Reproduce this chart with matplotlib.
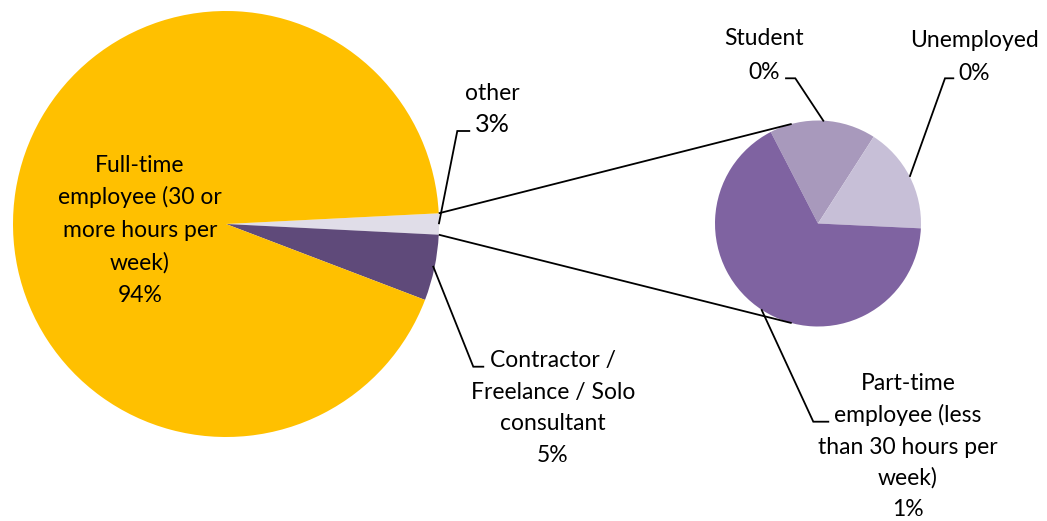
import matplotlib
matplotlib.use("Agg")
import matplotlib.pyplot as plt
import numpy as np

plt.rcParams['font.family'] = ['Lato', 'DejaVu Sans']

# ---- data ----
main_labels = ['other', 'Contractor /\nFreelance / Solo\nconsultant',
               'Full-time\nemployee (30 or\nmore hours per\nweek)']
main_values = [1.6, 5.0, 93.4]
main_pct = ['3%', '5%', '94%']
main_colors = ['#E0DDE8', '#5F4A7A', '#FFC000']

sub_labels = ['Student', 'Unemployed',
              'Part-time\nemployee (less\nthan 30 hours per\nweek)']
sub_values = [1, 1, 4]
sub_pct = ['0%', '0%', '1%']
sub_colors = ['#A899BC', '#C7BFD7', '#7F63A1']

W, H = 1047, 521
def Y(y):
    return H - y

fig = plt.figure(figsize=(W / 100, H / 100), dpi=100)
ax = fig.add_axes([0, 0, 1, 1])

# main pie
C1 = (226, Y(224)); R1 = 213
other_frac = main_values[0] / sum(main_values)
start1 = other_frac * 360 / 2
ax.pie(main_values, colors=main_colors, startangle=start1, counterclock=False,
       center=C1, radius=R1, wedgeprops=dict(linewidth=0))

# secondary pie
C2 = (818, Y(223.5)); R2 = 103
ax.pie(sub_values, colors=sub_colors, startangle=117.3, counterclock=False,
       center=C2, radius=R2, wedgeprops=dict(linewidth=0))

ax.set_xlim(0, W)
ax.set_ylim(0, H)
ax.set_aspect('equal')
ax.axis('off')

LW = 1.3
# connector lines between pies
ta = np.deg2rad(start1)
tb = np.deg2rad(start1 - other_frac * 360)
for t_main, t_sub in [(ta, np.deg2rad(104.8)), (tb, np.deg2rad(-104.8))]:
    p = (C1[0] + R1 * np.cos(t_main), C1[1] + R1 * np.sin(t_main))
    q = (C2[0] + R2 * np.cos(t_sub), C2[1] + R2 * np.sin(t_sub))
    ax.plot([p[0], q[0]], [p[1], q[1]], color='black', lw=LW, solid_capstyle='butt')

# leader lines
leaders = [
    [(439, 223.3), (457.3, 131), (469.3, 131)],
    [(433.3, 266.7), (473.3, 366.7), (483.3, 366.7)],
    [(823.3, 120.7), (795.3, 78.3), (786, 78.3)],
    [(910, 176), (945, 78.3), (953.3, 78.3)],
    [(761.7, 310), (813.3, 421.7), (828.3, 421.7)],
]
for pts in leaders:
    ax.plot([p[0] for p in pts], [Y(p[1]) for p in pts], color='black', lw=LW,
            solid_joinstyle='miter')

FS = 16.5
def label(x, y_base, text, pitch=32.5, size=FS):
    for i, line in enumerate(text.split('\n')):
        ax.text(x, Y(y_base + i * pitch), line, ha='center', va='baseline',
                fontsize=size, color='black')

label(140, 171.7, main_labels[2] + '\n' + main_pct[2], pitch=32.5)
label(553, 367.3, main_labels[1] + '\n' + main_pct[1], pitch=31.5)
label(492.5, 100, main_labels[0], size=FS)
label(492, 131.7, main_pct[0], size=FS * 1.1)
label(764, 45, sub_labels[0] + '\n' + sub_pct[0], pitch=34)
label(974, 47, sub_labels[1] + '\n' + sub_pct[1], pitch=33)
label(908, 390.5, sub_labels[2] + '\n' + sub_pct[2], pitch=31.5)

fig.savefig('out.png', dpi=100)
